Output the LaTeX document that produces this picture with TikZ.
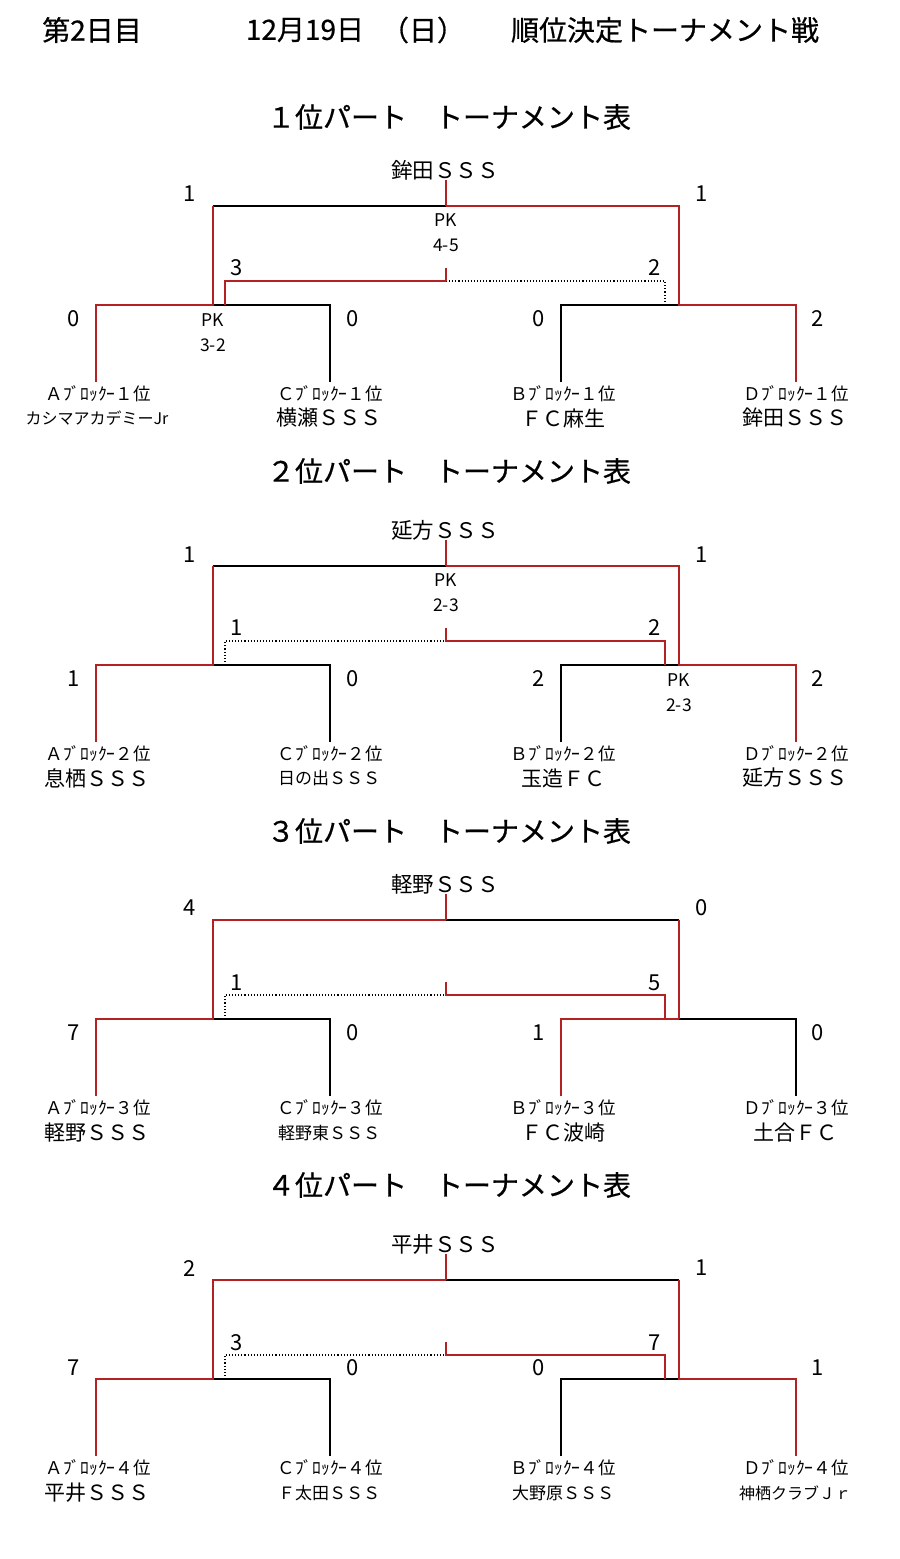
\documentclass[tikz,border=0pt]{standalone}
\usepackage{fontspec}
\setmainfont{Noto Sans CJK JP}
\newfontfamily\jpb{Noto Sans CJK JP}[FakeBold=0.6]
\definecolor{wred}{RGB}{178,34,34}
\newcommand\defcoords[1]{%
  \coordinate (#1TL) at (213,206);
  \coordinate (#1TC) at (446,206);
  \coordinate (#1TR) at (679,206);
  \coordinate (#1BL1) at (96,305);
  \coordinate (#1BL2) at (213,305);
  \coordinate (#1BL3) at (330,305);
  \coordinate (#1BR1) at (561,305);
  \coordinate (#1BR2) at (679,305);
  \coordinate (#1BR3) at (796,305);
  \coordinate (#1LA) at (96,382);
  \coordinate (#1LC) at (330,382);
  \coordinate (#1LB) at (561,382);
  \coordinate (#1LD) at (796,382);
  \coordinate (#1QL) at (225,305);
  \coordinate (#1QLT) at (225,281);
  \coordinate (#1QC) at (446,281);
  \coordinate (#1QCT) at (446,268);
  \coordinate (#1QRT) at (665,281);
  \coordinate (#1QR) at (665,305);
}
\begin{document}
\begin{tikzpicture}[x=1pt,y=-1pt,
  blk/.style={line width=1.2pt, draw=black},
  rd/.style={line width=1.8pt, draw=wred},
  dotl/.style={line width=1.1pt, draw=black, dotted},
  txt/.style={inner sep=0pt, anchor=center},
  hdr/.style={txt, font=\jpb\fontsize{28}{30}\selectfont},
  ttl/.style={txt, font=\jpb\fontsize{28}{30}\selectfont},
  champ/.style={txt, font=\fontsize{21.5}{24}\selectfont},
  score/.style={txt, font=\fontsize{22}{24}\selectfont},
  pk/.style={txt, font=\fontsize{17.5}{19}\selectfont},
  blab/.style={txt, font=\fontsize{17.5}{19}\selectfont},
  team/.style={txt, font=\fontsize{21}{24}\selectfont},
  teams/.style={txt, font=\fontsize{17}{19}\selectfont},
  teamt/.style={txt, font=\fontsize{16}{18}\selectfont}]
\useasboundingbox (0,0) rectangle (900,1559);
\fill[white] (0,0) rectangle (900,1559);

% header
\node[hdr] (h1) at (92,30) {第2日目};
\node[hdr] (h2) at (305,30) {12月19日};
\node[hdr] (h3) at (423,30) {（日）};
\node[hdr] (h4) at (665,30) {順位決定トーナメント戦};

% ===== Section 1 =====
\begin{scope}
\defcoords{a}
\node[ttl] (aT) at (449,117) {１位パート　トーナメント表};
\node[champ] (aC) at (445,170) {鉾田ＳＳＳ};
\draw[blk] (aTL) -- (aTC);
\draw[blk] (aBL2) -- (aBL3) -- (aLC);
\draw[blk] (aLB) -- (aBR1) -- (aBR2);
\draw[dotl] (aQC) -- (aQRT) -- (aQR);
\draw[rd] (aTC |- aC.south) -- (aTC);
\draw[rd] (aTC) -- (aTR) -- (aBR2) -- (aBR3) -- (aLD);
\draw[rd] (aLA) -- (aBL1) -- (aBL2) -- (aTL);
\draw[rd] (aQL) -- (aQLT) -- (aQC);
\draw[rd] (aQCT) -- (aQC);
\node[score] (as1) at (190,194) {1};
\node[score] (as2) at (702,194) {1};
\node[score] (as3) at (237,268) {3};
\node[score] (as4) at (655,268) {2};
\node[score] (as5) at (74,319) {0};
\node[score] (as6) at (353,319) {0};
\node[score] (as7) at (539,319) {0};
\node[score] (as8) at (818,319) {2};
\node[pk] (ap1) at (446,220) {PK};
\node[pk] (ap2) at (446,245) {4-5};
\node[pk] (ap3) at (213,320) {PK};
\node[pk] (ap4) at (213,345) {3-2};
\node[blab] (abA) at (98,394) {Ａﾌﾞﾛｯｸｰ１位};
\node[blab] (abC) at (330,394) {Ｃﾌﾞﾛｯｸｰ１位};
\node[blab] (abB) at (563,394) {Ｂﾌﾞﾛｯｸｰ１位};
\node[blab] (abD) at (796,394) {Ｄﾌﾞﾛｯｸｰ１位};
\node[teamt] (atA) at (97,418) {カシマアカデミーJr};
\node[team] (atC) at (329,418) {横瀬ＳＳＳ};
\node[team] (atB) at (563,418) {ＦＣ麻生};
\node[team] (atD) at (795,418) {鉾田ＳＳＳ};
\end{scope}

% ===== Section 2 =====
\begin{scope}[yshift=-360pt]
\defcoords{b}
\node[ttl] (bT) at (449,111) {２位パート　トーナメント表};
\node[champ] (bC) at (445,170) {延方ＳＳＳ};
\draw[blk] (bTL) -- (bTC);
\draw[blk] (bBL2) -- (bBL3) -- (bLC);
\draw[blk] (bLB) -- (bBR1) -- (bBR2);
\draw[dotl] (bQL) -- (bQLT) -- (bQC);
\draw[rd] (bTC |- bC.south) -- (bTC);
\draw[rd] (bTC) -- (bTR) -- (bBR2) -- (bBR3) -- (bLD);
\draw[rd] (bLA) -- (bBL1) -- (bBL2) -- (bTL);
\draw[rd] (bQCT) -- (bQC) -- (bQRT) -- (bQR);
\node[score] (bs1) at (190,195) {1};
\node[score] (bs2) at (702,195) {1};
\node[score] (bs3) at (237,268) {1};
\node[score] (bs4) at (655,268) {2};
\node[score] (bs5) at (74,319) {1};
\node[score] (bs6) at (353,319) {0};
\node[score] (bs7) at (539,319) {2};
\node[score] (bs8) at (818,319) {2};
\node[pk] (bp1) at (446,220) {PK};
\node[pk] (bp2) at (446,245) {2-3};
\node[pk] (bp3) at (679,320) {PK};
\node[pk] (bp4) at (679,345) {2-3};
\node[blab] (bbA) at (98,394) {Ａﾌﾞﾛｯｸｰ２位};
\node[blab] (bbC) at (330,394) {Ｃﾌﾞﾛｯｸｰ２位};
\node[blab] (bbB) at (563,394) {Ｂﾌﾞﾛｯｸｰ２位};
\node[blab] (bbD) at (796,394) {Ｄﾌﾞﾛｯｸｰ２位};
\node[team] (btA) at (97,418) {息栖ＳＳＳ};
\node[teams] (btC) at (329,418) {日の出ＳＳＳ};
\node[team] (btB) at (563,418) {玉造ＦＣ};
\node[team] (btD) at (795,418) {延方ＳＳＳ};
\end{scope}

% ===== Section 3 =====
\begin{scope}[yshift=-714pt]
\defcoords{c}
\node[ttl] (cT) at (449,117) {３位パート　トーナメント表};
\node[champ] (cC) at (445,170) {軽野ＳＳＳ};
\draw[blk] (cTC) -- (cTR);
\draw[blk] (cBL2) -- (cBL3) -- (cLC);
\draw[blk] (cBR2) -- (cBR3) -- (cLD);
\draw[dotl] (cQL) -- (cQLT) -- (cQC);
\draw[rd] (cTC |- cC.south) -- (cTC);
\draw[rd] (cTR) -- (cBR2);
\draw[rd] (cLA) -- (cBL1) -- (cBL2) -- (cTL) -- (cTC);
\draw[rd] (cLB) -- (cBR1) -- (cBR2);
\draw[rd] (cQCT) -- (cQC) -- (cQRT) -- (cQR);
\node[score] (cs1) at (190,194) {4};
\node[score] (cs2) at (702,194) {0};
\node[score] (cs3) at (237,269) {1};
\node[score] (cs4) at (655,269) {5};
\node[score] (cs5) at (74,319) {7};
\node[score] (cs6) at (353,319) {0};
\node[score] (cs7) at (539,319) {1};
\node[score] (cs8) at (818,319) {0};
\node[blab] (cbA) at (98,394) {Ａﾌﾞﾛｯｸｰ３位};
\node[blab] (cbC) at (330,394) {Ｃﾌﾞﾛｯｸｰ３位};
\node[blab] (cbB) at (563,394) {Ｂﾌﾞﾛｯｸｰ３位};
\node[blab] (cbD) at (796,394) {Ｄﾌﾞﾛｯｸｰ３位};
\node[team] (ctA) at (97,419) {軽野ＳＳＳ};
\node[teams] (ctC) at (329,419) {軽野東ＳＳＳ};
\node[team] (ctB) at (563,419) {ＦＣ波崎};
\node[team] (ctD) at (795,419) {土合ＦＣ};
\end{scope}

% ===== Section 4 =====
\begin{scope}[yshift=-1074pt]
\defcoords{d}
\node[ttl] (dT) at (449,111) {４位パート　トーナメント表};
\node[champ] (dC) at (445,170) {平井ＳＳＳ};
\draw[blk] (dTC) -- (dTR);
\draw[blk] (dBL2) -- (dBL3) -- (dLC);
\draw[blk] (dLB) -- (dBR1) -- (dBR2);
\draw[dotl] (dQL) -- (dQLT) -- (dQC);
\draw[rd] (dTC |- dC.south) -- (dTC);
\draw[rd] (dTR) -- (dBR2) -- (dBR3) -- (dLD);
\draw[rd] (dLA) -- (dBL1) -- (dBL2) -- (dTL) -- (dTC);
\draw[rd] (dQCT) -- (dQC) -- (dQRT) -- (dQR);
\node[score] (ds1) at (190,194) {2};
\node[score] (ds2) at (702,194) {1};
\node[score] (ds3) at (237,269) {3};
\node[score] (ds4) at (655,269) {7};
\node[score] (ds5) at (74,294) {7};
\node[score] (ds6) at (353,294) {0};
\node[score] (ds7) at (539,294) {0};
\node[score] (ds8) at (818,294) {1};
\node[blab] (dbA) at (98,394) {Ａﾌﾞﾛｯｸｰ４位};
\node[blab] (dbC) at (330,394) {Ｃﾌﾞﾛｯｸｰ４位};
\node[blab] (dbB) at (563,394) {Ｂﾌﾞﾛｯｸｰ４位};
\node[blab] (dbD) at (796,394) {Ｄﾌﾞﾛｯｸｰ４位};
\node[team] (dtA) at (97,419) {平井ＳＳＳ};
\node[teams] (dtC) at (329,419) {Ｆ太田ＳＳＳ};
\node[teams] (dtB) at (563,419) {大野原ＳＳＳ};
\node[teamt] (dtD) at (795,419) {神栖クラブＪｒ};
\end{scope}
\end{tikzpicture}
\end{document}
